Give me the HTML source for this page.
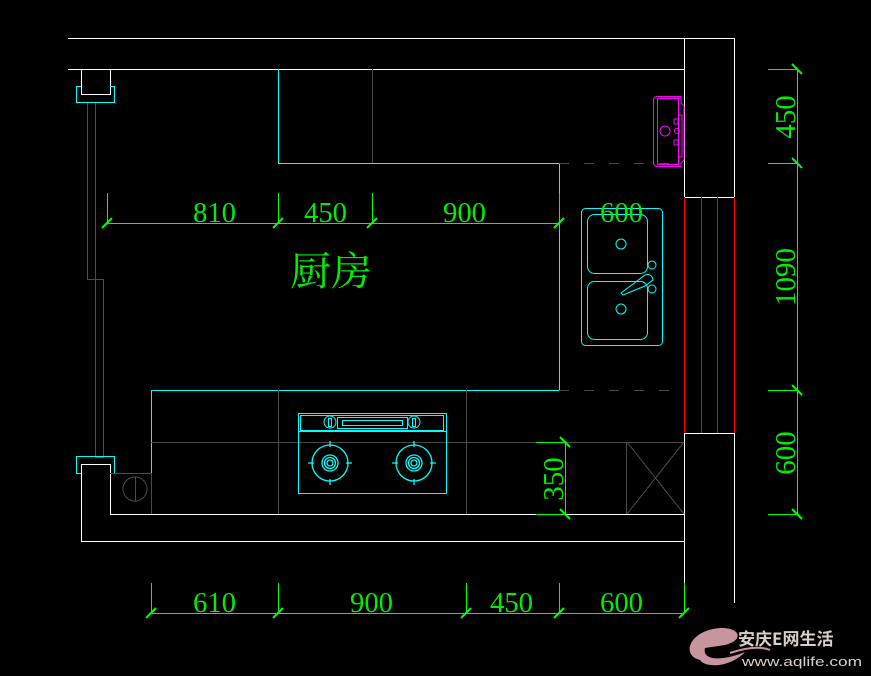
<!DOCTYPE html>
<html><head><meta charset="utf-8"><style>
html,body{margin:0;padding:0;background:#000;}
svg{display:block;}
text{font-family:"Liberation Serif","Noto Serif CJK SC",serif;}
</style></head><body>
<svg width="871" height="676" viewBox="0 0 871 676" xmlns="http://www.w3.org/2000/svg">
<rect width="871" height="676" fill="#000"/>
<g fill="none" stroke-width="1" shape-rendering="crispEdges">
<g stroke="#fff">
<line x1="68" y1="38.5" x2="735" y2="38.5"/>
<line x1="68" y1="69.5" x2="684" y2="69.5"/>
<polyline points="684.5,38 684.5,197"/>
<polyline points="734.5,38 734.5,197.5 684,197.5"/>
<rect x="81.5" y="69.5" width="29" height="25"/>
<polyline points="81.5,541 81.5,464.5 110.5,464.5 110.5,514.5 684,514.5"/>
<line x1="81" y1="541.5" x2="684" y2="541.5"/>
<polyline points="684.5,433 684.5,583"/>
<polyline points="684,433.5 734.5,433.5 734.5,603"/>
</g>
<g stroke="#ff0000">
<polyline points="87.5,102 87.5,279.5 103.5,279.5 103.5,457.5 95.5,457.5 95.5,102"/>
<line x1="684.5" y1="197" x2="684.5" y2="433"/>
<line x1="701.5" y1="197" x2="701.5" y2="433"/>
<line x1="717.5" y1="197" x2="717.5" y2="433"/>
<line x1="734.5" y1="197" x2="734.5" y2="433"/>
</g>
<g stroke="#00ffff">
<polyline points="81,86.5 76.5,86.5 76.5,102.5 114.5,102.5 114.5,86.5 110,86.5"/>
<polyline points="81,473.5 76.5,473.5 76.5,456.5 114.5,456.5 114.5,473.5 110,473.5"/>
<polyline points="278.5,69 278.5,163.5 559.5,163.5 559.5,390.5 151.5,390.5 151.5,473"/>
</g>
<g stroke="#4a4a4a">
<line x1="372.5" y1="69" x2="372.5" y2="163"/>
<line x1="151" y1="442.5" x2="684" y2="442.5"/>
<line x1="278.5" y1="390" x2="278.5" y2="514"/>
<line x1="466.5" y1="390" x2="466.5" y2="514"/>
<line x1="626.5" y1="442" x2="626.5" y2="514"/>
<line x1="627" y1="442" x2="684" y2="514"/>
<line x1="684" y1="442" x2="627" y2="514"/>
<polyline points="110,473.5 151.5,473.5 151.5,514"/>
<line x1="559" y1="163.5" x2="684" y2="163.5" stroke-dasharray="10,15"/>
<line x1="559" y1="390.5" x2="684" y2="390.5" stroke-dasharray="10,15"/>
</g>
<circle cx="135" cy="489" r="12" stroke="#4a4a4a"/>
<line x1="135.5" y1="477" x2="135.5" y2="501" stroke="#4a4a4a"/>
</g>
<g fill="none" stroke="#ff00ff" stroke-width="1">
<path d="M684,106 V160 L681,163 V166.5 H656 L653.5,164 V99 L656,96.5 H681 V103 L684,106"/>
<rect x="657.5" y="98.5" width="21" height="66"/>
<path d="M678,115 H682 V157 H678"/>
<circle cx="665" cy="131" r="5"/>
<rect x="674" y="119" width="4" height="5"/>
<rect x="674" y="140" width="4" height="5"/>
<circle cx="677" cy="131" r="2.5"/>
</g>
<g fill="none" stroke="#00ffff" stroke-width="1">
<rect x="581.5" y="208.5" width="81" height="137" rx="4"/>
<rect x="587.5" y="214.5" width="60" height="59" rx="7"/>
<rect x="587.5" y="281.5" width="60" height="58" rx="7"/>
<circle cx="621" cy="244" r="5"/>
<circle cx="621" cy="309" r="5"/>
<circle cx="652" cy="265" r="4"/>
<circle cx="652" cy="289" r="4"/>
<path d="M621,293 L645,275 Q652,273 653,280 L645,286 L623,295 Z"/>
</g>
<g fill="none" stroke="#00ffff" stroke-width="1">
<rect x="298.5" y="413.5" width="148" height="80"/>
<line x1="298" y1="431.5" x2="447" y2="431.5"/>
<rect x="300.5" y="415.5" width="143" height="15"/>
<rect x="337.5" y="417.5" width="70" height="11"/>
<rect x="342.5" y="420.5" width="60" height="5"/>
<ellipse cx="330" cy="422" rx="6" ry="6"/>
<rect x="328.5" y="418.5" width="3" height="8"/>
<ellipse cx="414" cy="422" rx="6" ry="6"/>
<rect x="412.5" y="418.5" width="3" height="8"/>
<g stroke-width="1.3">
<circle cx="330" cy="463" r="18"/><circle cx="330" cy="463" r="8"/><circle cx="330" cy="463" r="5.5"/><circle cx="330" cy="463" r="3"/>
<path d="M330,441 V447 M330,479 V485 M308,463 H314 M346,463 H352"/>
<circle cx="414" cy="463" r="18"/><circle cx="414" cy="463" r="8"/><circle cx="414" cy="463" r="5.5"/><circle cx="414" cy="463" r="3"/>
<path d="M414,441 V447 M414,479 V485 M392,463 H398 M430,463 H436"/>
</g>
</g>
<g stroke="#00ff00" stroke-width="1" fill="none" shape-rendering="crispEdges">
<line x1="107" y1="223.5" x2="559" y2="223.5"/>
<line x1="107.5" y1="193" x2="107.5" y2="223"/>
<line x1="278.5" y1="193" x2="278.5" y2="223"/>
<line x1="372.5" y1="193" x2="372.5" y2="223"/>
<line x1="559.5" y1="193" x2="559.5" y2="230"/>
<line x1="151" y1="613.5" x2="684" y2="613.5"/>
<line x1="151.5" y1="583" x2="151.5" y2="613"/>
<line x1="278.5" y1="583" x2="278.5" y2="613"/>
<line x1="466.5" y1="583" x2="466.5" y2="613"/>
<line x1="559.5" y1="583" x2="559.5" y2="613"/>
<line x1="684.5" y1="583" x2="684.5" y2="613"/>
<line x1="797.5" y1="69" x2="797.5" y2="514"/>
<line x1="768" y1="69.5" x2="797" y2="69.5"/>
<line x1="768" y1="163.5" x2="797" y2="163.5"/>
<line x1="768" y1="390.5" x2="797" y2="390.5"/>
<line x1="768" y1="514.5" x2="797" y2="514.5"/>
<line x1="565.5" y1="442" x2="565.5" y2="514"/>
<line x1="536" y1="442.5" x2="565" y2="442.5"/>
<line x1="536" y1="514.5" x2="565" y2="514.5"/>
</g>
<g stroke="#00ff00" stroke-width="2">
<path d="M102,228 L112,218 M273,228 L283,218 M367,228 L377,218 M554,228 L564,218"/>
<path d="M146,618 L156,608 M273,618 L283,608 M461,618 L471,608 M554,618 L564,608 M679,618 L689,608"/>
<path d="M792,64 L802,74 M792,158 L802,168 M792,385 L802,395 M792,509 L802,519"/>
<path d="M560,437 L570,447 M560,509 L570,519"/>
</g>
<g fill="#00ee00" font-size="29">
<text x="193" y="222" textLength="43" lengthAdjust="spacingAndGlyphs">810</text>
<text x="304" y="222" textLength="43" lengthAdjust="spacingAndGlyphs">450</text>
<text x="443" y="222" textLength="43" lengthAdjust="spacingAndGlyphs">900</text>
<text x="600" y="222" textLength="43" lengthAdjust="spacingAndGlyphs">600</text>
<text x="193" y="612" textLength="43" lengthAdjust="spacingAndGlyphs">610</text>
<text x="350" y="612" textLength="43" lengthAdjust="spacingAndGlyphs">900</text>
<text x="490" y="612" textLength="43" lengthAdjust="spacingAndGlyphs">450</text>
<text x="600" y="612" textLength="43" lengthAdjust="spacingAndGlyphs">600</text>
<text transform="translate(795,117) rotate(-90)" text-anchor="middle">450</text>
<text transform="translate(795,277) rotate(-90)" text-anchor="middle">1090</text>
<text transform="translate(795,453) rotate(-90)" text-anchor="middle">600</text>
<text transform="translate(563,479) rotate(-90)" text-anchor="middle">350</text>
</g>
<text x="290" y="285" font-size="40" fill="#00ee00" style='font-family:"Noto Serif CJK SC",serif' textLength="82" lengthAdjust="spacingAndGlyphs">厨房</text>
<g>
<path d="M700,660 C680,655 690,630 720,628 C740,627 745,640 725,645 L705,648 C702,660 720,662 745,652 C730,668 705,668 700,660 Z M708,642 C715,632 730,632 732,637 Z" fill="#c8949e"/>
<path d="M730,653 C745,648 760,646 770,650" stroke="#c8949e" stroke-width="2" fill="none"/>
<text x="738" y="645" font-size="17" font-weight="bold" fill="#d8cfc8" style='font-family:"Noto Sans CJK SC",sans-serif'>安庆E网生活</text>
<text x="742" y="666" font-size="13" fill="#d8cfc8" style='font-family:"Liberation Sans",sans-serif' textLength="120" lengthAdjust="spacingAndGlyphs">www.aqlife.com</text>
</g>
</svg>
</body></html>
